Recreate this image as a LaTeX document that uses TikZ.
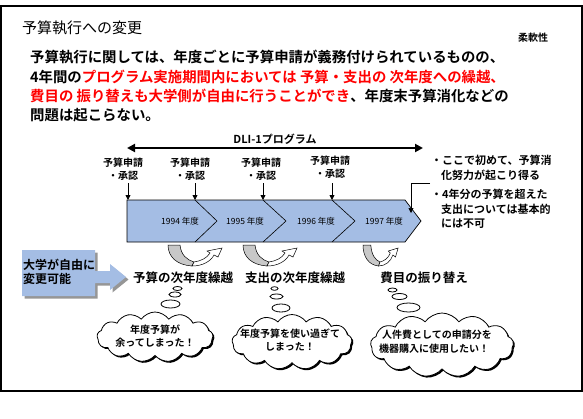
\documentclass[tikz,border=0pt]{standalone}
\usepackage{fontspec}
\setmainfont{Noto Sans CJK JP}[BoldFont={Noto Sans CJK JP Bold}]
\usetikzlibrary{shapes.symbols,arrows.meta}
\definecolor{bannerblue}{RGB}{164,189,228}
\definecolor{bandgray}{RGB}{200,200,200}
\definecolor{shadowgray}{RGB}{150,150,150}
\definecolor{textred}{RGB}{255,0,0}
\tikzset{
  para/.style={anchor=west, inner sep=0pt, font=\fontsize{14.4}{16}\selectfont\bfseries},
  steplabel/.style={inner sep=0pt, align=center, font=\fontsize{10}{12.5}\selectfont\bfseries},
  yearlabel/.style={inner sep=0pt, font=\fontsize{8.5}{10}\selectfont},
  sidetext/.style={anchor=west, inner sep=0pt, font=\fontsize{11}{13}\selectfont\bfseries},
  bottomlabel/.style={inner sep=0pt, font=\fontsize{12.5}{14}\selectfont\bfseries},
  cloudtext/.style={inner sep=0pt, font=\fontsize{10}{12}\selectfont\bfseries},
  thought/.style={cloud, cloud puffs=13, cloud puff arc=110, cloud ignores aspect, inner sep=0pt},
  smalltip/.style={-{Triangle[length=5pt,width=5pt]}, line width=0.8pt},
  uarrow/.pic={
    \filldraw[fill=bandgray, draw=black, line width=0.5pt]
      (0,0) -- (12,0) .. controls (13,10) and (19,15) .. (26,17)
      -- (24,21) .. controls (9,20) and (0,12) .. cycle;
    \filldraw[fill=white, draw=black, line width=0.5pt]
      (24,21) .. controls (35,21) and (43,16) .. (46,10)
      -- (50,12) -- (54,3) -- (39,6) -- (42,8)
      .. controls (39,13) and (33,16) .. (26,17) -- cycle;
  }
}
\begin{document}
\begin{tikzpicture}[x=1pt,y=-1pt]
\useasboundingbox (0,0) rectangle (583,418);
\draw[line width=1.5pt] (1,6) rectangle (582,391);

% title
\node[anchor=west, inner sep=0pt, font=\fontsize{15}{17}\selectfont] (title) at (22,28) {予算執行への変更};
\node[inner sep=0pt, font=\fontsize{10}{12}\selectfont\bfseries] (flex) at (533,38) {柔軟性};

% paragraph
\node[para] (p1) at (30,57) {予算執行に関しては、年度ごとに予算申請が義務付けられているものの、};
\node[para] (p2) at (30,77) {4年間の\textcolor{textred}{プログラム実施期間内においては 予算・支出の 次年度への繰越、}};
\node[para] (p3) at (30,96) {\textcolor{textred}{費目の 振り替えも大学側が自由に行うことができ}、年度末予算消化などの};
\node[para] (p4) at (30,115) {問題は起こらない。};

% program arrow
\coordinate (progL) at (127,148);
\coordinate (progR) at (423,148);
\draw[line width=2.2pt, {Triangle[length=8pt,width=8pt]}-{Triangle[length=8pt,width=8pt]}] (progL) -- (progR);
\node[inner sep=0pt, font=\fontsize{11}{13}\selectfont\bfseries] (prog) at (275,139) {DLI-1プログラム};

% step labels
\node[steplabel] (s1) at (123,169) {予算申請\\・承認};
\node[steplabel] (s2) at (190,169) {予算申請\\・承認};
\node[steplabel] (s3) at (261,169) {予算申請\\・承認};
\node[steplabel] (s4) at (330,167) {予算申請\\・承認};

% banner
\filldraw[fill=bannerblue, draw=black, line width=0.7pt]
  (127,200) -- (405,200) -- (421,221) -- (405,242) -- (127,242) -- cycle;
\draw[line width=0.6pt] (195,200) -- (217,221) -- (195,242);
\draw[line width=0.6pt] (263,200) -- (286,221) -- (263,242);
\draw[line width=0.6pt] (332,200) -- (355,221) -- (332,242);
\coordinate (b1) at (128,200);
\coordinate (b2) at (195,200);
\coordinate (b3) at (263,200);
\coordinate (b4) at (332,200);
\draw[smalltip] (b1 |- 0,183) -- (b1);
\draw[smalltip] (b2 |- 0,183) -- (b2);
\draw[smalltip] (b3 |- 0,183) -- (b3);
\draw[smalltip] (b4 |- 0,183) -- (b4);

\node[yearlabel] (y1) at (180,221) {1994 年度};
\node[yearlabel] (y2) at (245,221) {1995 年度};
\node[yearlabel] (y3) at (316,221) {1996 年度};
\node[yearlabel] (y4) at (384,221) {1997 年度};

% side notes
\node[sidetext] (n1a) at (431,160) {・ここで初めて、予算消};
\node[sidetext] (n1b) at (441,175) {化努力が起こり得る};
\node[sidetext] (n2a) at (431,194) {・4年分の予算を超えた};
\node[sidetext] (n2b) at (441,209) {支出については基本的};
\node[sidetext] (n2c) at (441,224) {には不可};
\coordinate (noteStart) at (430,183);
\coordinate (noteTip) at (411,213);
\draw[smalltip, line width=0.7pt] (noteStart) -- (noteTip |- noteStart) -- (noteTip);

% curved arrows
\pic at (168,245) {uarrow};
\pic at (243,245) {uarrow};
\pic[xscale=0.65] at (363,245) {uarrow};

% left callout
\fill[shadowgray] (24.5,252.5) -- (97.5,252.5) -- (97.5,273.5) -- (112.5,273.5) -- (112.5,266.5) -- (128.5,279.5) -- (112.5,292.5) -- (112.5,285.5) -- (97.5,285.5) -- (97.5,298.5) -- (24.5,298.5) -- cycle;
\fill[bannerblue] (22,250) -- (95,250) -- (95,271) -- (110,271) -- (110,264) -- (126,277) -- (110,290) -- (110,283) -- (95,283) -- (95,296) -- (22,296) -- cycle;
\node[anchor=west, inner sep=0pt, align=left, font=\fontsize{12}{14}\selectfont\bfseries] (free) at (23,272) {大学が自由に\\変更可能};

% bottom labels
\node[bottomlabel] (l1) at (183,278) {予算の次年度繰越};
\node[bottomlabel] (l2) at (295,278) {支出の次年度繰越};
\node[bottomlabel] (l3) at (424,278) {費目の振り替え};

% thought bubbles
\foreach \cx/\cy/\rx/\ry in {177.5/288.5/4.5/2, 175/294.5/6/2.5, 170.5/304/9.5/4,
  274.5/288.5/3.5/1.8, 276.5/296.5/6.5/2.5, 281/308/9/4,
  392.5/290/4.5/2, 399.5/296.5/7.5/3, 408.5/307.5/11.5/4.5}{
  \filldraw[fill=white, draw=black, line width=0.8pt] (\cx,\cy) ellipse [x radius=\rx, y radius=\ry];
}

\node[thought, fill=black, minimum width=116pt, minimum height=50pt] (c1s) at (156.5,338.5) {};
\node[thought, fill=white, draw=black, line width=0.8pt, minimum width=116pt, minimum height=50pt] (c1) at (155,337) {};
\node[thought, fill=black, minimum width=120pt, minimum height=55pt] (c2s) at (293.5,343.5) {};
\node[thought, fill=white, draw=black, line width=0.8pt, minimum width=120pt, minimum height=55pt] (c2) at (292,342) {};
\node[thought, fill=black, minimum width=143pt, minimum height=64pt] (c3s) at (443.5,346.5) {};
\node[thought, fill=white, draw=black, line width=0.8pt, minimum width=143pt, minimum height=64pt] (c3) at (442,345) {};

\node[cloudtext] (t1a) at (155,330) {年度予算が};
\node[cloudtext] (t1b) at (155,343) {余ってしまった！};
\node[cloudtext] (t2a) at (290,334) {年度予算を使い過ぎて};
\node[cloudtext] (t2b) at (290,347) {しまった！};
\node[cloudtext] (t3a) at (437,335) {人件費としての申請分を};
\node[cloudtext] (t3b) at (434,349) {機器購入に使用したい！};
\end{tikzpicture}
\end{document}
